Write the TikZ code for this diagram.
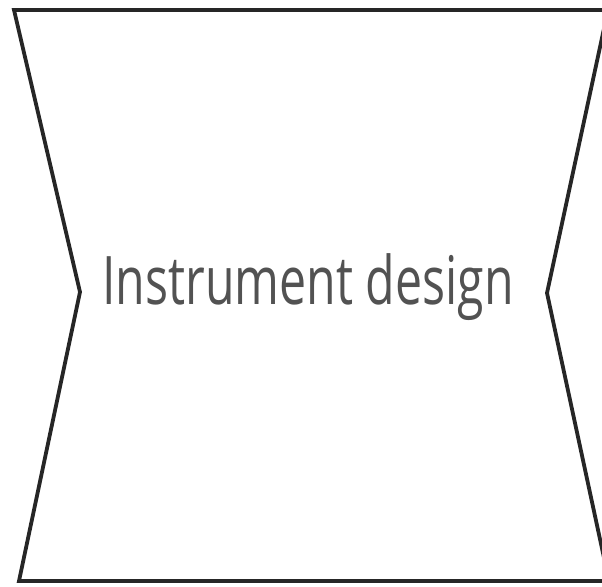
\documentclass[tikz,border=0pt]{standalone}
\usepackage{fontspec}
\newfontfamily\labelfont[FakeStretch=0.72]{Open Sans}
\usetikzlibrary{positioning}

\begin{document}
\begin{tikzpicture}[
      x=1pt, y=-1pt,
      frame/.style={draw=black!85, line width=3.8pt, line join=miter},
      caption/.style={font=\labelfont\fontsize{67}{72}\selectfont, text=black!68, inner sep=0pt},
    ]
    \useasboundingbox (0,0) rectangle (602,586);
    \clip (0,0) rectangle (602,586);
    % outline of the bow-tie frame
    \coordinate (tl) at (14,10);
    \coordinate (tr) at (608,10);
    \coordinate (rv) at (547,293);
    \coordinate (br) at (609,581);
    \coordinate (bl) at (19,581);
    \coordinate (lv) at (80,292);
    \draw[frame] (tl) -- (tr) -- (rv) -- (br) -- (bl) -- (lv) -- cycle;
    \node[caption] (title) at (308,287) {Instrument design};
\end{tikzpicture}
\end{document}
